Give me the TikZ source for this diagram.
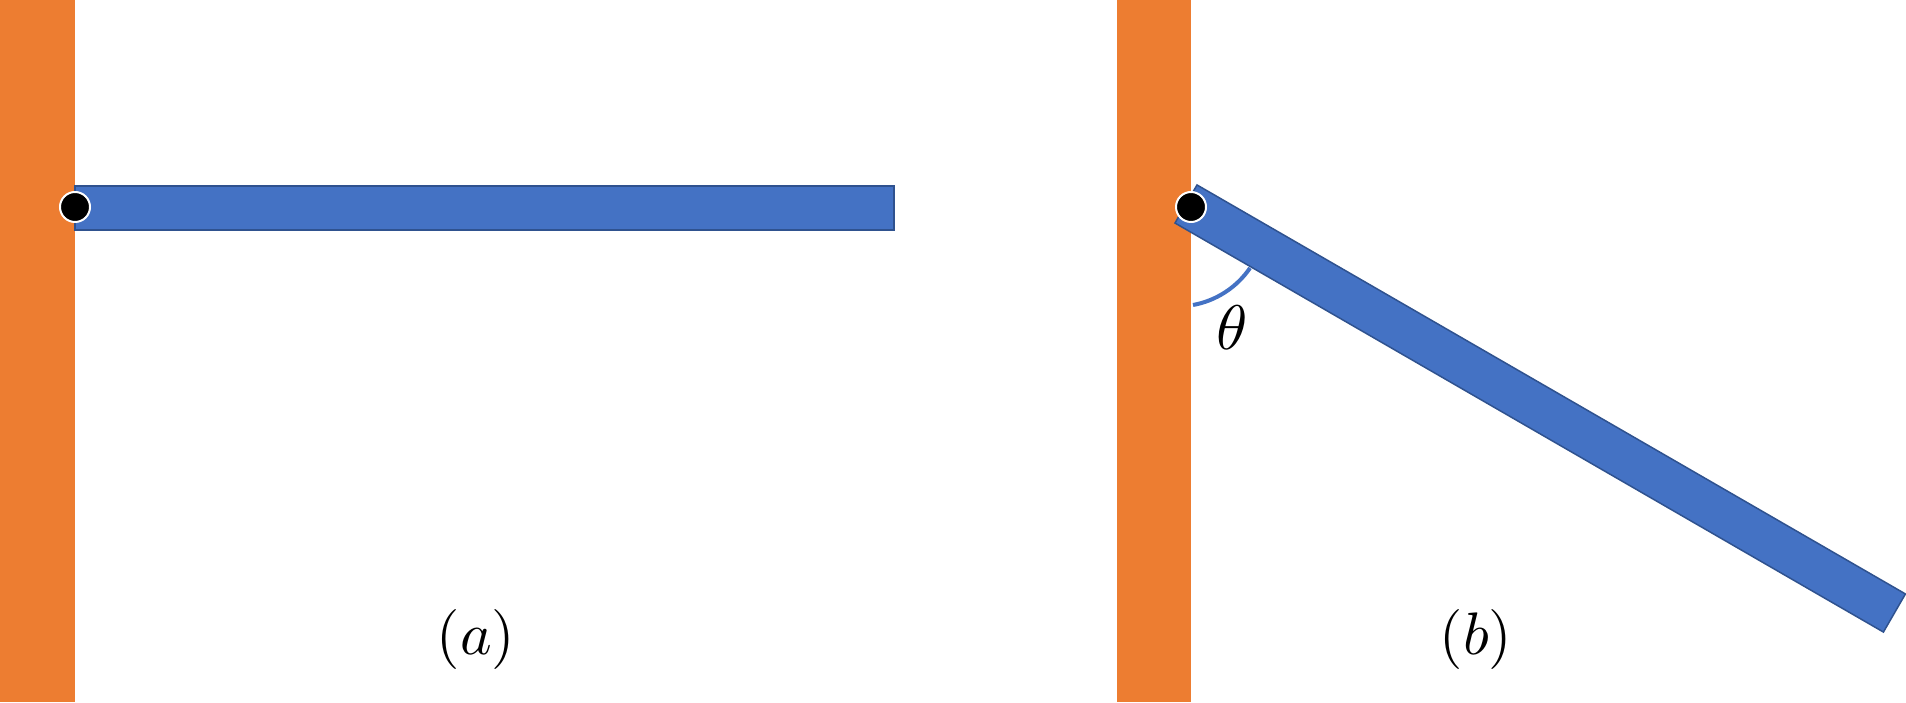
\documentclass[tikz,border=0pt]{standalone}
\usepackage{fontspec}
\definecolor{wallc}{HTML}{ED7D31}
\definecolor{barc}{HTML}{4472C4}
\definecolor{bardark}{HTML}{2F528F}
\begin{document}
\begin{tikzpicture}[x=1pt,y=1pt,
  wall/.style={fill=wallc,draw=none},
  bar/.style={fill=barc,draw=bardark,line width=1.5pt},
  pivot/.style={circle,fill=black,draw=white,line width=2pt,minimum size=30pt,inner sep=0pt},
  lbl/.style={inner sep=0pt,scale=6},
  anglearc/.style={draw=barc,line width=4pt}]
\useasboundingbox (0,0) rectangle (1906,702);
% (a)
\fill[wall] (0,0) rectangle (75,702);
\draw[bar] (75,472) rectangle (894,516);
\node[pivot] (pa) at (75,495) {};
\node[lbl] (la) at (476,62) {$(a)$};
% (b)
\fill[wall] (1117,0) rectangle (1191,702);
\begin{scope}[shift={(1186,498)},rotate=-30]
\draw[bar] (0,-22) rectangle (818,22);
\end{scope}
\draw[anglearc] (1193,397) arc[start angle=-79.6,end angle=-34.4,radius=88.5pt];
\node[pivot] (pb) at (1191,495) {};
\node[lbl,scale=1.05] (th) at (1232,374) {$\theta$};
\node[lbl] (lb) at (1476,62) {$(b)$};
\end{tikzpicture}
\end{document}
